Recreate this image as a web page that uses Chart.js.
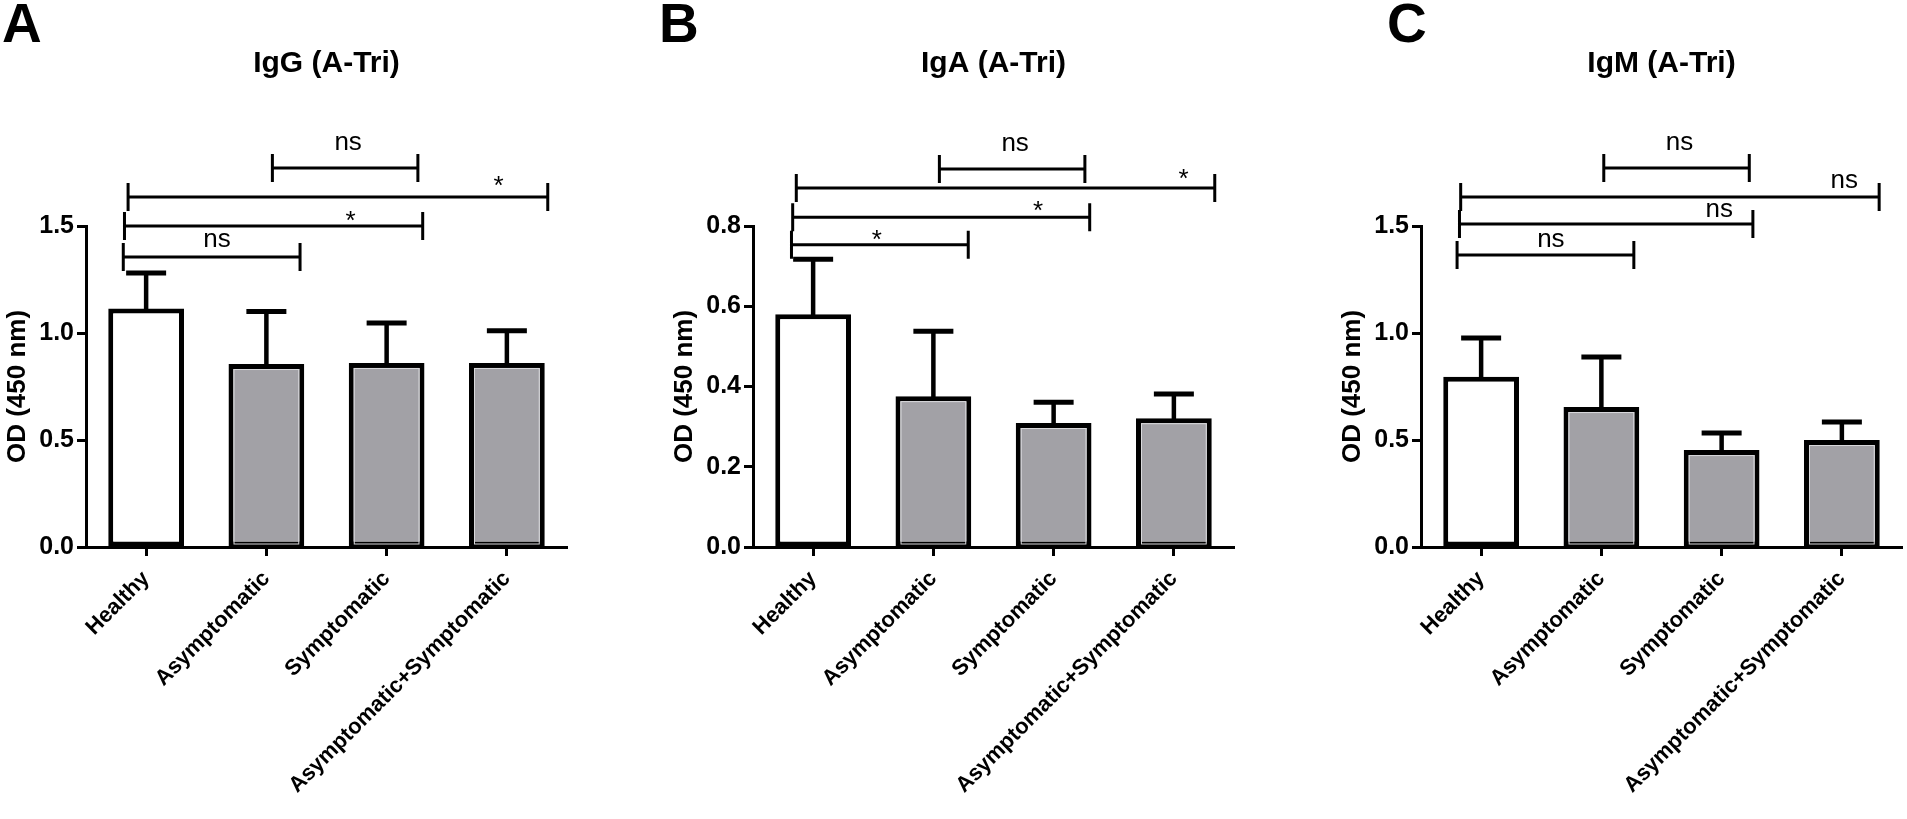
<!DOCTYPE html>
<html>
<head>
<meta charset="utf-8"/>
<title>OD (450 nm) A-Tri</title>
<script src="https://cdn.jsdelivr.net/npm/chart.js@4.4.1/dist/chart.umd.min.js"></script>
<style>
body { margin: 0; background: #fff; overflow: hidden; width: 1907px; height: 819px; position: relative; font-family: "Liberation Sans", Arial, sans-serif; }
.panel { position: absolute; top: 0; height: 819px; }
.letter { position: absolute; top: -4px; font-size: 55px; line-height: 55px; font-weight: bold; color: #000; }
</style>
</head>
<body>
<div class="letter" style="left:2px">A</div>
<div class="letter" style="left:659px">B</div>
<div class="letter" style="left:1387px">C</div>
<div class="panel" style="left:0px;width:600px"><canvas id="chartA"></canvas></div>
<div class="panel" style="left:667px;width:600px"><canvas id="chartB"></canvas></div>
<div class="panel" style="left:1335px;width:572px"><canvas id="chartC"></canvas></div>
<script>
var groups = ['Healthy', 'Asymptomatic', 'Symptomatic', 'Asymptomatic+Symptomatic'];

var iggMean = [1.115, 0.855, 0.86, 0.86];
var iggSd = [0.165, 0.245, 0.187, 0.15];
var igaMean = [0.58, 0.376, 0.309, 0.321];
var igaSd = [0.137, 0.162, 0.052, 0.06];
var igmMean = [0.795, 0.654, 0.453, 0.50];
var igmSd = [0.182, 0.234, 0.08, 0.084];

var iggTicks = [0, 0.5, 1.0, 1.5];
var igaTicks = [0, 0.2, 0.4, 0.6, 0.8];
var igmTicks = [0, 0.5, 1.0, 1.5];

// comparison brackets: [from, to, level, label, label x, label baseline]
var iggSig = [
  [1.05, 2.26, 1.771, 'ns', 1.68, 1.855],
  [-0.15, 3.34, 1.636, '*', 2.93, 1.650],
  [-0.18, 2.30, 1.500, '*', 1.70, 1.486],
  [-0.19, 1.28, 1.355, 'ns', 0.59, 1.402]
];
var igaSig = [
  [1.05, 2.26, 0.942, 'ns', 1.68, 0.987],
  [-0.14, 3.34, 0.895, '*', 3.08, 0.897],
  [-0.17, 2.30, 0.822, '*', 1.87, 0.817],
  [-0.18, 1.29, 0.753, '*', 0.53, 0.745]
];
var igmSig = [
  [1.02, 2.23, 1.771, 'ns', 1.65, 1.855],
  [-0.17, 3.31, 1.636, 'ns', 3.02, 1.678],
  [-0.18, 2.26, 1.509, 'ns', 1.98, 1.542],
  [-0.20, 1.27, 1.364, 'ns', 0.58, 1.402]
];

Chart.defaults.font.family = '"Liberation Sans", Arial, sans-serif';
Chart.defaults.color = '#000';

// error bars (mean + SD), light inner edge of the bars, significance brackets
var extras = {
  id: 'extras',
  afterDatasetsDraw: function(chart) {
    var ctx = chart.ctx;
    var x = chart.scales.x, y = chart.scales.y;
    var meta = chart.getDatasetMeta(0);
    var ds = chart.data.datasets[0];
    ctx.save();
    meta.data.forEach(function(bar, i) {
      if (i > 0) {
        ctx.strokeStyle = '#d9d9dc';
        ctx.lineWidth = 1;
        ctx.strokeRect(bar.x - bar.width / 2 + 5.5, bar.y + 5.5, bar.width - 11, bar.base - bar.y - 8);
      }
      ctx.strokeStyle = '#000';
      var top = y.getPixelForValue(ds.data[i] + ds.sd[i]);
      ctx.lineWidth = 4.5;
      ctx.beginPath();
      ctx.moveTo(bar.x, bar.y + 2);
      ctx.lineTo(bar.x, top);
      ctx.stroke();
      ctx.lineWidth = 5;
      ctx.beginPath();
      ctx.moveTo(bar.x - 20, top);
      ctx.lineTo(bar.x + 20, top);
      ctx.stroke();
    });
    ctx.strokeStyle = '#000';
    ctx.lineWidth = 3;
    ctx.font = '26px "Liberation Sans", Arial, sans-serif';
    ctx.fillStyle = '#000';
    ctx.textAlign = 'center';
    ctx.textBaseline = 'alphabetic';
    chart.options.plugins.extras.sig.forEach(function(s) {
      var x1 = x.getPixelForValue(s[0]), x2 = x.getPixelForValue(s[1]);
      var ly = y.getPixelForValue(s[2]);
      ctx.beginPath();
      ctx.moveTo(x1, ly - 14); ctx.lineTo(x1, ly + 14);
      ctx.moveTo(x1, ly); ctx.lineTo(x2, ly);
      ctx.moveTo(x2, ly - 14); ctx.lineTo(x2, ly + 14);
      ctx.stroke();
      ctx.fillText(s[3], x.getPixelForValue(s[4]), y.getPixelForValue(s[5]));
    });
    ctx.restore();
  }
};

function makePanel(id, title, means, sds, ticks, sig, rightPad) {
  return new Chart(document.getElementById(id), {
    type: 'bar',
    data: {
      labels: groups,
      datasets: [{
        data: means,
        sd: sds,
        backgroundColor: ['#ffffff', '#a2a1a6', '#a2a1a6', '#a2a1a6'],
        borderColor: '#000',
        borderWidth: 5,
        borderSkipped: false,
        barPercentage: 0.63,
        categoryPercentage: 1.0
      }]
    },
    options: {
      responsive: true,
      maintainAspectRatio: false,
      animation: false,
      events: [],
      layout: { padding: { left: 0, top: 0, right: rightPad, bottom: 0 } },
      plugins: {
        legend: { display: false },
        tooltip: { enabled: false },
        title: {
          display: true,
          text: title,
          fullSize: false,
          color: '#000',
          font: { size: 30, weight: 'bold' },
          padding: { top: 46, bottom: 144 }
        },
        extras: { sig: sig }
      },
      scales: {
        x: {
          offset: true,
          afterFit: function(s) { s.height = 272; },
          grid: { display: true, drawOnChartArea: false, drawTicks: true, offset: false,
                  tickLength: 9, tickWidth: 3, tickColor: '#000' },
          border: { display: true, color: '#000', width: 3 },
          ticks: { autoSkip: false, minRotation: 45, maxRotation: 45, padding: 10,
                   color: '#000', font: { size: 22, weight: 'bold' } }
        },
        y: {
          min: 0,
          max: ticks[ticks.length - 1],
          afterFit: function(s) { s.width = 86; },
          afterBuildTicks: function(s) { s.ticks = ticks.map(function(v) { return { value: v }; }); },
          grid: { display: true, drawOnChartArea: false, drawTicks: true,
                  tickLength: 9, tickWidth: 3, tickColor: '#000' },
          border: { display: true, color: '#000', width: 3 },
          ticks: { padding: 3, color: '#000', font: { size: 25, weight: 'bold' },
                   callback: function(v) { return Number(v).toFixed(1); } },
          title: { display: true, text: 'OD (450 nm)', color: '#000',
                   font: { size: 26, weight: 'bold' }, padding: { top: 2, bottom: 0 } }
        }
      }
    },
    plugins: [extras]
  });
}

makePanel('chartA', 'IgG (A-Tri)', iggMean, iggSd, iggTicks, iggSig, 33);
makePanel('chartB', 'IgA (A-Tri)', igaMean, igaSd, igaTicks, igaSig, 33);
makePanel('chartC', 'IgM (A-Tri)', igmMean, igmSd, igmTicks, igmSig, 5);
</script>
</body>
</html>
